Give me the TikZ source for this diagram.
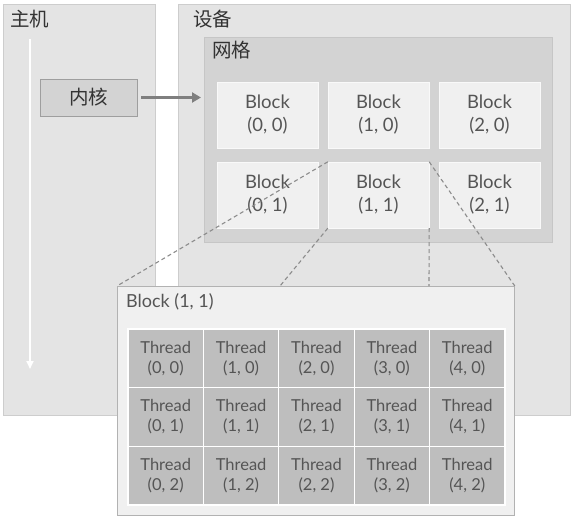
\documentclass[tikz,border=0pt]{standalone}
\usepackage{fontspec}
\setmainfont{Lato}
\newfontfamily\cjk{Noto Sans CJK SC}
\usetikzlibrary{positioning,arrows.meta}
\definecolor{panelgray}{HTML}{E4E4E4}
\definecolor{panelline}{HTML}{CDCDCD}
\definecolor{gridgray}{HTML}{D3D3D3}
\definecolor{gridline}{HTML}{C6C6C6}
\definecolor{blockgray}{HTML}{F0F0F0}
\definecolor{threadgray}{HTML}{BEBEBE}
\definecolor{textgray}{HTML}{555555}
\definecolor{titlegray}{HTML}{333333}
\definecolor{arrowgray}{HTML}{7F7F7F}
\tikzset{
	panel/.style={draw=panelline, fill=panelgray, anchor=north west, inner sep=0pt},
	title/.style={anchor=north west, inner sep=0pt, text=titlegray, font=\cjk\fontsize{19.5}{22}\selectfont},
	block/.style={draw=white!60!blockgray, fill=blockgray, minimum width=101pt, minimum height=66pt, inner sep=0pt, align=center, text=textgray, font=\fontsize{18.5}{23}\selectfont},
	thread/.style={draw=white, line width=1.2pt, fill=threadgray, minimum width=75.4pt, minimum height=58.67pt, inner sep=0pt, align=center, text=textgray, font=\fontsize{16.5}{20}\selectfont},
	kernel/.style={draw=gridline!80!black, fill=gridgray, minimum width=97pt, minimum height=37pt, inner sep=0pt, text=titlegray, font=\cjk\fontsize{19.5}{22}\selectfont},
	flow/.style={-{Triangle[length=9pt,width=10pt]}, arrowgray, line width=2.5pt},
	timeline/.style={-{Triangle[length=8pt,width=7pt]}, white, line width=1.8pt},
	frustum/.style={draw=arrowgray!90, dashed, dash pattern=on 4pt off 3pt, line width=1.1pt}
}
\begin{document}
\begin{tikzpicture}[x=1pt, y=-1pt]
	\useasboundingbox (0,0) rectangle (576,520);

	% host and device
	\node[panel, minimum width=152pt, minimum height=411pt] (host) at (3,4) {};
	\node[panel, minimum width=392pt, minimum height=411pt] (device) at (178,4) {};
	\node[panel, fill=gridgray, draw=gridline, minimum width=348pt, minimum height=205pt] (grid) at (204,37) {};
	\node[title] (hostname) at (10,10) {主机};
	\node[title] (devicename) at (193,10) {设备};
	\node[title] (gridname) at (212,41) {网格};

	\coordinate (tstart) at (30,39);
	\coordinate (tend) at (30,369);
	\draw[timeline] (tstart) -- (tend);

	\node[kernel] (kernel) at (88.5,97.5) {内核};
	\coordinate (gridin) at (201,97.5);
	\draw[flow] ([xshift=4pt]kernel.east) -- (gridin);

	% blocks
	\foreach \i in {0,1,2}
		\foreach \j in {0,1}
			\node[block] (b\i\j) at (267.5+111*\i, 115+80*\j) {Block\\(\i, \j)};

	% zoom onto block (1, 1)
	\coordinate (bpl) at (280,286);
	\coordinate (bpr) at (429,286);
	\node[panel, fill=blockgray, draw=arrowgray!60, line width=0.8pt, minimum width=397pt, minimum height=229pt] (bp) at (117,286) {};
	\draw[frustum] (b11.north west) -- (bp.north west);
	\draw[frustum] (b11.north east) -- (bp.north east);
	\draw[frustum] (b11.south west) -- (bpl);
	\draw[frustum] (b11.south east) -- (bpr);
	\node[anchor=north west, inner sep=0pt, text=textgray, font=\fontsize{18}{22}\selectfont] (bplabel) at (126,293) {Block (1, 1)};

	% threads
	\foreach \i in {0,...,4}
		\foreach \j in {0,1,2}
			\node[thread] (t\i\j) at (165.7+75.4*\i, 358.33+58.67*\j) {Thread\\(\i, \j)};
\end{tikzpicture}
\end{document}
